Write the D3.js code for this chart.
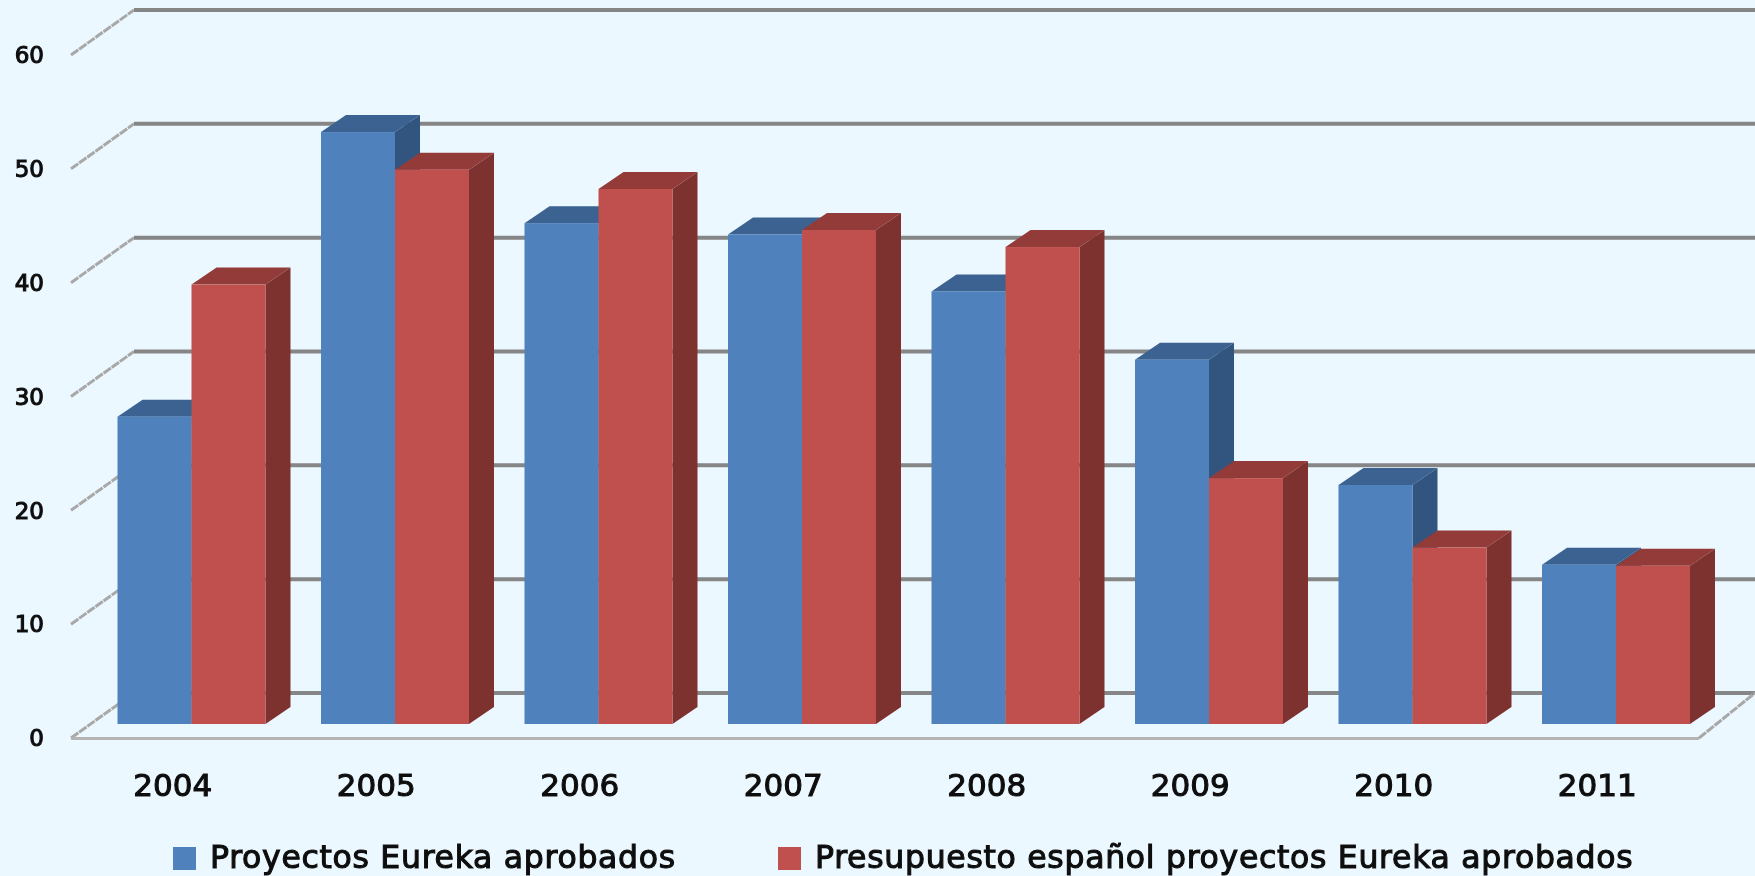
<!DOCTYPE html>
<html><head><meta charset="utf-8">
<script src="https://cdnjs.cloudflare.com/ajax/libs/d3/7.8.5/d3.min.js"></script>
<style>html,body{margin:0;padding:0;background:#ecf8ff;overflow:hidden}svg{display:block}text{font-family:"DejaVu Sans",sans-serif;font-weight:400;fill:#111;stroke:#111;stroke-width:1.1px}</style>
</head><body><svg id="c" width="1755" height="876"><defs><filter id="soft" x="-5%" y="-20%" width="110%" height="140%"><feGaussianBlur stdDeviation="0.5"/></filter></defs></svg>
<script>
const years=["2004","2005","2006","2007","2008","2009","2010","2011"];
const proyectos=[27,52,44,43,38,32,21,14];
const presupuesto=[38.6,48.7,47,43.4,41.9,21.6,15.5,13.9];
const yTicks=[0,10,20,30,40,50,60];
const seriesNames=["Proyectos Eureka aprobados","Presupuesto español proyectos Eureka aprobados"];
const colors=[{f:"#4f81bd",t:"#3b6291",s:"#31557f"},{f:"#c0504d",t:"#933b39",s:"#7d3230"}];

const svg=d3.select("#c");
const y=d3.scaleLinear().domain([0,60]).range([738,55]);
const x=d3.scaleBand().domain(years).range([71,1699]);
const backDx=63,backDy=45,baseOff=14,depthX=25,depthY=17,barW=74,barStart=46.5;
const bar=v=>y(v)-baseOff;

yTicks.forEach(t=>{
  svg.append("line").attr("x1",x.range()[0]).attr("y1",y(t)).attr("x2",x.range()[0]+backDx).attr("y2",y(t)-backDy)
    .attr("stroke","#a8a8a8").attr("stroke-width",3).attr("stroke-dasharray","9 1");
  svg.append("line").attr("x1",x.range()[0]+backDx).attr("y1",y(t)-backDy).attr("x2",1755).attr("y2",y(t)-backDy)
    .attr("stroke","#868686").attr("stroke-width",4);
});
svg.append("line").attr("x1",x.range()[1]).attr("y1",y(0)).attr("x2",1755).attr("y2",y(0)-backDy).attr("stroke","#a8a8a8").attr("stroke-width",3).attr("stroke-dasharray","9 1");
svg.append("line").attr("x1",x.range()[0]).attr("y1",y(0)+.5).attr("x2",x.range()[1]).attr("y2",y(0)+.5).attr("stroke","#b4b4b4").attr("stroke-width",3);

function box(x0,v,c){
  const t=bar(v),b=bar(0),r=x0+barW;
  const p=a=>a.map(q=>q.join(",")).join(" ");
  svg.append("polygon").attr("points",p([[x0,t],[x0+depthX,t-depthY],[r+depthX,t-depthY],[r,t]])).attr("fill",c.t);
  svg.append("polygon").attr("points",p([[r,t],[r+depthX,t-depthY],[r+depthX,b-depthY],[r,b]])).attr("fill",c.s);
  svg.append("rect").attr("x",x0).attr("y",t).attr("width",barW).attr("height",b-t).attr("fill",c.f);
}
years.forEach((yr,i)=>{
  const x0=x(yr)+barStart;
  box(x0,proyectos[i],colors[0]);
  box(x0+barW,presupuesto[i],colors[1]);
});

const labels=svg.append("g").attr("filter","url(#soft)");
yTicks.forEach(t=>labels.append("text").attr("x",44).attr("y",y(t)).attr("dy","0.36em").attr("text-anchor","end").attr("font-size",23).text(t));
years.forEach(yr=>labels.append("text").attr("x",x(yr)+x.bandwidth()/2).attr("y",796).attr("text-anchor","middle").attr("font-size",31).text(yr));

const legX=[173,778],leg=[[0],[1]];
leg.forEach(([k])=>{
  svg.append("rect").attr("x",legX[k]).attr("y",847).attr("width",23).attr("height",23).attr("fill",colors[k].f);
  labels.append("text").attr("x",legX[k]+37).attr("y",868).attr("font-size",31.5).attr("letter-spacing",0.7).text(seriesNames[k]);
});
</script></body></html>
